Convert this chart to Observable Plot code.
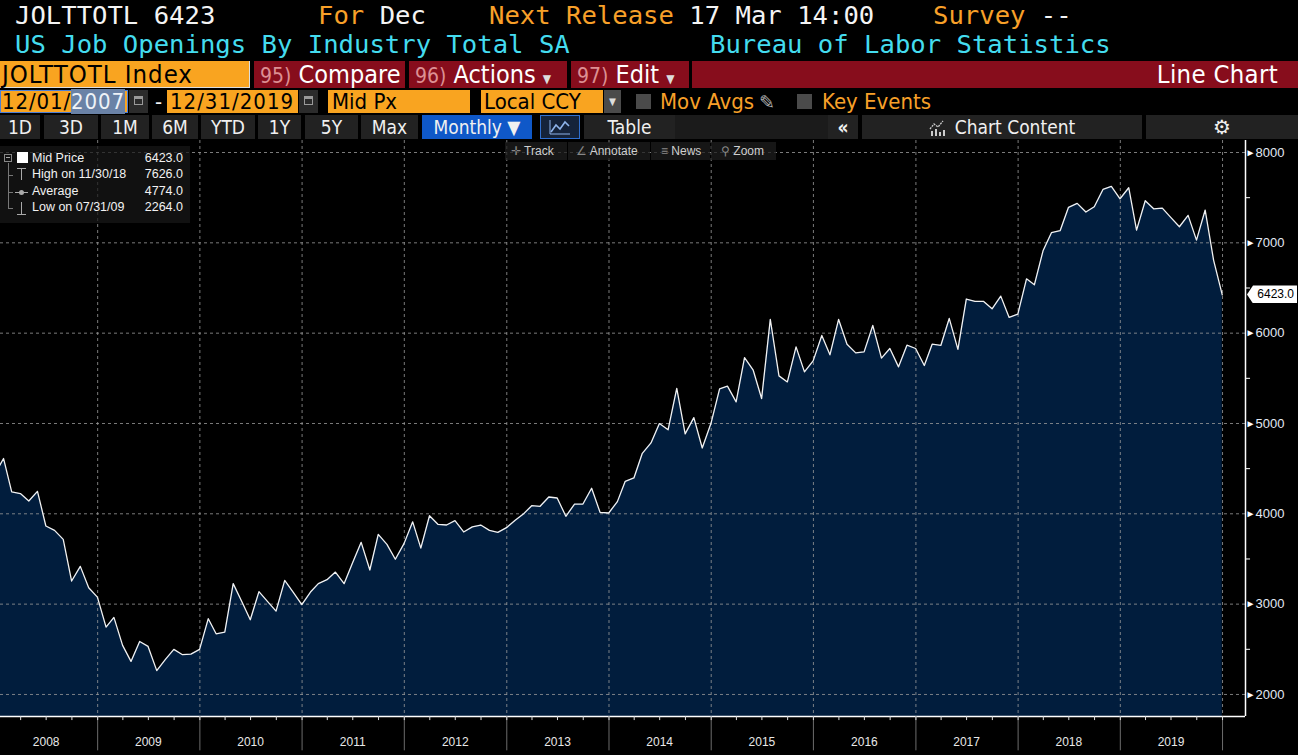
<!DOCTYPE html>
<html><head><meta charset="utf-8">
<script src="https://cdn.jsdelivr.net/npm/d3@7"></script>
<script src="https://cdn.jsdelivr.net/npm/@observablehq/plot@0.6"></script>
<style>
html,body{margin:0;padding:0;background:#000;width:1298px;height:755px;overflow:hidden;}
#root{position:relative;width:1298px;height:755px;background:#000;}
.a{position:absolute;white-space:pre;box-sizing:border-box;}
.mono{font-family:"DejaVu Sans Mono",monospace;font-size:25.6px;line-height:30px;}
.cond{font-family:"DejaVu Sans Condensed","DejaVu Sans",sans-serif;}
.or{color:#f8a029;}
.wh{color:#f4f4f4;}
.cy{color:#44dcef;}
.r3{top:61px;height:27px;line-height:27px;font-size:25px;}
.red{background:#870d1c;color:#fff;}
.num{color:#dd8f93;font-size:21px;}
.r4{top:90px;height:23px;line-height:23px;font-size:22px;}
.obox{background:#f9a420;color:#000;padding-left:3px;}
.cal{background:#2b2b2b;}
.cal:after{content:"";position:absolute;left:5px;top:6px;width:9px;height:9px;border:1px solid #9a9a9a;border-top:3px solid #9a9a9a;box-sizing:border-box;}
.chk{background:#4a4a4a;width:15px;height:15px;top:94px;}
.r5{top:115px;height:24px;line-height:24px;font-size:19px;background:#222;color:#f0f0f0;text-align:center;}
#leg{left:0;top:146px;width:190px;height:77px;background:rgba(24,24,24,0.72);font-family:"Liberation Sans",Arial,sans-serif;font-size:12.5px;color:#f2f2f2;}
#leg .t{position:absolute;left:32px;}
#leg .v{position:absolute;right:7px;}
#tb{left:505px;top:142px;width:271px;height:18px;font-family:"Liberation Sans",Arial,sans-serif;font-size:12px;color:#cfcfcf;line-height:18px;}
#tb div{position:absolute;top:0;height:18px;background:rgba(30,30,30,0.75);}
#badge{position:absolute;left:1247px;width:50px;height:18px;background:#fff;color:#000;font-family:"Liberation Sans",Arial,sans-serif;font-size:12px;line-height:18px;text-align:right;padding-right:3px;box-sizing:border-box;clip-path:polygon(0 50%,6px 0,100% 0,100% 100%,6px 100%);}
#chart{position:absolute;left:0;top:140px;}
</style></head>
<body><div id="root">
<!-- header row 1 -->
<div class="a mono wh" style="left:15px;top:0">JOLTTOTL 6423</div>
<div class="a mono" style="left:318px;top:0"><span class="or">For</span><span class="wh"> Dec</span></div>
<div class="a mono" style="left:489px;top:0"><span class="or">Next Release</span><span class="wh"> 17 Mar 14:00</span></div>
<div class="a mono" style="left:933px;top:0"><span class="or">Survey</span><span class="wh"> --</span></div>
<!-- header row 2 -->
<div class="a mono cy" style="left:15px;top:29px">US Job Openings By Industry Total SA</div>
<div class="a mono cy" style="left:710px;top:29px">Bureau of Labor Statistics</div>
<!-- row 3 -->
<div class="a cond r3" style="left:0;width:250px;background:#f9a420;color:#000;padding-left:2px;font-size:25.5px;letter-spacing:1px;border-right:1px solid #ddd;border-bottom:1px solid #ddd">JOLTTOTL Index</div>
<div class="a cond r3 red" style="left:254px;width:151px;padding-left:6px"><span class="num">95)</span> Compare</div>
<div class="a cond r3 red" style="left:409px;width:158px;padding-left:6px"><span class="num">96)</span> Actions <span style="font-size:12px;color:#ddd">▼</span></div>
<div class="a cond r3 red" style="left:571px;width:118px;padding-left:6px"><span class="num">97)</span> Edit <span style="font-size:12px;color:#ddd">▼</span></div>
<div class="a cond r3 red" style="left:692px;width:606px;text-align:right;padding-right:20px;font-size:25.5px;letter-spacing:0.3px">Line Chart</div>
<!-- row 4 -->
<div class="a cond r4 obox" style="left:0;width:128px;border:1px solid #4d7fd6;padding-left:1px;line-height:21px;letter-spacing:0.9px">12/01/<span style="background:#6a82a6;color:#eef2f7">2007</span></div>
<div class="a cal" style="left:129px;top:90px;width:19px;height:23px"></div>
<div class="a cond r4 wh" style="left:155px">-</div>
<div class="a cond r4 obox" style="left:167px;width:131px;letter-spacing:1px">12/31/2019</div>
<div class="a cal" style="left:299px;top:90px;width:19px;height:23px"></div>
<div class="a cond r4 obox" style="left:328px;width:142px;padding-left:4px">Mid Px</div>
<div class="a cond r4 obox" style="left:481px;width:122px">Local CCY</div>
<div class="a cond" style="left:604px;top:90px;width:17px;height:23px;background:#4a4a4a;color:#ddd;font-size:10px;line-height:23px;text-align:center">▼</div>
<div class="a chk" style="left:636px"></div>
<div class="a cond r4 or" style="left:660px">Mov Avgs</div>
<div class="a" style="left:759px;top:92px;color:#aaa;font-size:19px;line-height:20px;font-family:'DejaVu Sans'">✎</div>
<div class="a chk" style="left:797px"></div>
<div class="a cond r4 or" style="left:822px">Key Events</div>
<!-- row 5 -->
<div class="a cond r5" style="left:0;width:40px">1D</div>
<div class="a cond r5" style="left:44px;width:54px">3D</div>
<div class="a cond r5" style="left:101px;width:48px">1M</div>
<div class="a cond r5" style="left:152px;width:46px">6M</div>
<div class="a cond r5" style="left:201px;width:54px">YTD</div>
<div class="a cond r5" style="left:258px;width:43px">1Y</div>
<div class="a cond r5" style="left:305px;width:53px">5Y</div>
<div class="a cond r5" style="left:361px;width:57px">Max</div>
<div class="a cond r5" style="left:422px;width:110px;background:#0f58c8">Monthly ▼</div>
<div class="a r5" style="left:540px;width:40px;background:#15233a;border:1px solid #2f6fd0"><svg width="24" height="18" style="margin-top:2px"><polyline points="3,14 8,7 12,11 17,4 21,8" fill="none" stroke="#8fb4ea" stroke-width="1.6"/><line x1="2" y1="16" x2="22" y2="16" stroke="#8fb4ea" stroke-width="1"/><line x1="2" y1="2" x2="2" y2="16" stroke="#8fb4ea" stroke-width="1"/></svg></div>
<div class="a cond r5" style="left:584px;width:91px">Table</div>
<div class="a r5" style="left:675px;width:153px;background:#1b1b1b"></div>
<div class="a cond r5" style="left:828px;width:30px;font-weight:bold">«</div>
<div class="a cond r5" style="left:862px;width:280px"><svg width="18" height="16" style="vertical-align:-2px;margin-right:8px"><polyline points="1,9 5,4 9,7 14,1" fill="none" stroke="#ccc" stroke-width="1.3" stroke-dasharray="2,1"/><rect x="2" y="11" width="2" height="5" fill="#ccc"/><rect x="6" y="9" width="2" height="7" fill="#ccc"/><rect x="10" y="12" width="2" height="4" fill="#ccc"/><rect x="14" y="10" width="2" height="6" fill="#ccc"/></svg>Chart Content</div>
<div class="a r5" style="left:1146px;width:152px;font-size:20px;font-family:'DejaVu Sans'">⚙</div>

<div id="chart"></div>

<div id="tb" class="a">
  <div style="left:0;width:62px"><span style="color:#888;margin-left:6px">✛</span> Track</div>
  <div style="left:63px;width:82px"><span style="color:#888;margin-left:8px">∠</span> Annotate</div>
  <div style="left:146px;width:59px"><span style="color:#888;margin-left:10px">≡</span> News</div>
  <div style="left:206px;width:65px"><span style="color:#888;margin-left:10px">⚲</span> Zoom</div>
</div>

<div id="leg" class="a">
  <div class="a" style="left:4px;top:8px;width:8px;height:8px;border:1px solid #888"></div>
  <div class="a" style="left:6px;top:11px;width:4px;height:1px;background:#aaa"></div>
  <div class="a" style="left:8px;top:17px;width:1px;height:46px;background:#777"></div>
  <div class="a" style="left:8px;top:29px;width:5px;height:1px;background:#777"></div>
  <div class="a" style="left:8px;top:46px;width:5px;height:1px;background:#777"></div>
  <div class="a" style="left:8px;top:62px;width:5px;height:1px;background:#777"></div>
  <div class="a" style="left:17px;top:6px;width:11px;height:11px;background:#fff"></div>
  <div class="a" style="left:17px;top:22px;width:9px;height:1px;background:#aaa"></div>
  <div class="a" style="left:21px;top:22px;width:1px;height:12px;background:#aaa"></div>
  <div class="a" style="left:15px;top:46px;width:13px;height:1px;background:#aaa"></div>
  <div class="a" style="left:19px;top:44px;width:5px;height:5px;border-radius:3px;background:#aaa"></div>
  <div class="a" style="left:21px;top:56px;width:1px;height:12px;background:#aaa"></div>
  <div class="a" style="left:17px;top:68px;width:9px;height:1px;background:#aaa"></div>
  <div class="t" style="top:5px">Mid Price</div><div class="v" style="top:5px" id="lgLast"></div>
  <div class="t" style="top:21px" id="lgHighT"></div><div class="v" style="top:21px" id="lgHigh"></div>
  <div class="t" style="top:38px">Average</div><div class="v" style="top:38px" id="lgAvg"></div>
  <div class="t" style="top:54px" id="lgLowT"></div><div class="v" style="top:54px" id="lgLow"></div>
</div>
<div id="badge"></div>
</div>
<script>
// ---- data: US job openings, total (thousands), monthly, Dec 2007 .. Dec 2019 ----
const firstYear = 2007, firstMonth = 11; // December 2007 (0-based month)
const jobOpenings = [
  4440, // 2007 Dec
  4612, 4242, 4224, 4142, 4249, 3865, 3817, 3717, 3256, 3418, 3182, 3078, // 2008
  2746, 2853, 2543, 2366, 2587, 2532, 2264, 2388, 2499, 2440, 2447, 2499, // 2009
  2839, 2672, 2691, 3227, 3027, 2827, 3138, 3027, 2923, 3263, 3134, 2994, // 2010
  3134, 3227, 3271, 3355, 3227, 3455, 3684, 3378, 3773, 3662, 3497, 3670, // 2011
  3911, 3620, 3979, 3884, 3876, 3924, 3799, 3856, 3876, 3817, 3795, 3847, // 2012
  3928, 3994, 4090, 4083, 4186, 4175, 3972, 4108, 4108, 4283, 4017, 4009, // 2013
  4135, 4360, 4397, 4670, 4785, 4999, 4930, 5389, 4885, 5065, 4729, 4999, // 2014
  5383, 5413, 5239, 5730, 5590, 5276, 6152, 5527, 5460, 5848, 5571, 5693, // 2015
  5975, 5760, 6152, 5878, 5782, 5793, 6085, 5723, 5830, 5627, 5867, 5830, // 2016
  5642, 5878, 5864, 6163, 5821, 6378, 6351, 6351, 6270, 6410, 6174, 6211, // 2017
  6602, 6535, 6912, 7112, 7134, 7393, 7437, 7341, 7400, 7591, 7626, 7488, // 2018
  7610, 7141, 7466, 7377, 7385, 7282, 7178, 7304, 7030, 7363, 6809, 6423  // 2019
];
const yearLabels = [2008, 2009, 2010, 2011, 2012, 2013, 2014, 2015, 2016, 2017, 2018, 2019];
const yTicks = [2000, 3000, 4000, 5000, 6000, 7000, 8000];
const yMinorTicks = [2500, 3500, 4500, 5500, 6500, 7500];
const legendStats = {high: 7626.0, highDate: "11/30/18", avg: 4774.0, low: 2264.0, lowDate: "07/31/09", last: 6423.0};

// month-end dates
const data = jobOpenings.map((v, i) => ({date: new Date(firstYear, firstMonth + i + 1, 0), value: v}));

const xDomain = [new Date(2008, 0, 20), new Date(2020, 2, 23)];
const yDomain = [1756, 8133];
const xEnd = xDomain[1];
const yMin = yDomain[0];
const yearStarts = d3.range(2008, 2021).map(y => new Date(y, 0, 1));
const gridYears = d3.range(2009, 2021).map(y => new Date(y, 0, 1));
const quarters = d3.timeMonth.every(3).range(new Date(2008, 0, 1), new Date(2020, 1, 1));
const pxDays = 18, tickLenVal = 45, sepLenVal = 380;

const chart = Plot.plot({
  width: 1298, height: 615,
  marginLeft: 0, marginRight: 53, marginTop: 0, marginBottom: 39,
  style: {background: "transparent", color: "#e6e6e6", fontFamily: "'Liberation Sans', Arial, sans-serif", fontSize: "12px", overflow: "visible"},
  x: {type: "time", domain: xDomain, axis: null},
  y: {type: "linear", domain: yDomain, axis: null},
  marks: [
    Plot.areaY(data, {x: "date", y1: yMin, y2: "value", fill: "#011d3d"}),
    Plot.ruleY(yTicks, {stroke: "#9a9a9a", strokeOpacity: 0.8, strokeDasharray: "3,3", strokeWidth: 1}),
    Plot.ruleX(gridYears, {stroke: "#9a9a9a", strokeOpacity: 0.8, strokeDasharray: "3,3", strokeWidth: 1}),
    Plot.lineY(data, {x: "date", y: "value", stroke: "#f2f2f2", strokeWidth: 1.3}),
    // right axis
    Plot.ruleX([xEnd], {stroke: "#ffffff", strokeWidth: 1.5}),
    Plot.ruleY(yMinorTicks, {x1: () => xEnd, x2: () => d3.timeDay.offset(xEnd, pxDays), stroke: "#ffffff", strokeWidth: 1}),
    Plot.text(yTicks, {x: () => xEnd, y: d => d, text: () => "►", dx: 5, fontSize: 10, fill: "#ffffff"}),
    Plot.text(yTicks, {x: () => xEnd, y: d => d, text: d => String(d), dx: 10, textAnchor: "start", fill: "#e2e9f4", fontSize: 13}),
    // bottom axis
    Plot.ruleY([yMin], {stroke: "#ffffff", strokeWidth: 1.5}),
    Plot.ruleX(yearStarts, {y1: yMin, y2: yMin - sepLenVal, stroke: "#6c6c6c", strokeWidth: 1}),
    Plot.ruleX(quarters, {y1: yMin, y2: yMin - tickLenVal, stroke: "#dddddd", strokeWidth: 1}),
    Plot.text(yearLabels, {x: d => new Date(d, 6, 1), y: () => yMin, text: d => String(d), dy: 26, fill: "#e8e8e8", fontSize: 12})
  ]
});
document.getElementById("chart").appendChild(chart);

// legend & last-value badge, positioned with the chart's own scale
const fmt = d3.format(".1f");
document.getElementById("lgLast").textContent = fmt(legendStats.last);
document.getElementById("lgHighT").textContent = "High on " + legendStats.highDate;
document.getElementById("lgHigh").textContent = fmt(legendStats.high);
document.getElementById("lgAvg").textContent = fmt(legendStats.avg);
document.getElementById("lgLowT").textContent = "Low on " + legendStats.lowDate;
document.getElementById("lgLow").textContent = fmt(legendStats.low);
const badge = document.getElementById("badge");
badge.textContent = fmt(jobOpenings[jobOpenings.length - 1]);
badge.style.top = (140 + chart.scale("y").apply(jobOpenings[jobOpenings.length - 1]) - 9) + "px";
</script>
</body></html>
